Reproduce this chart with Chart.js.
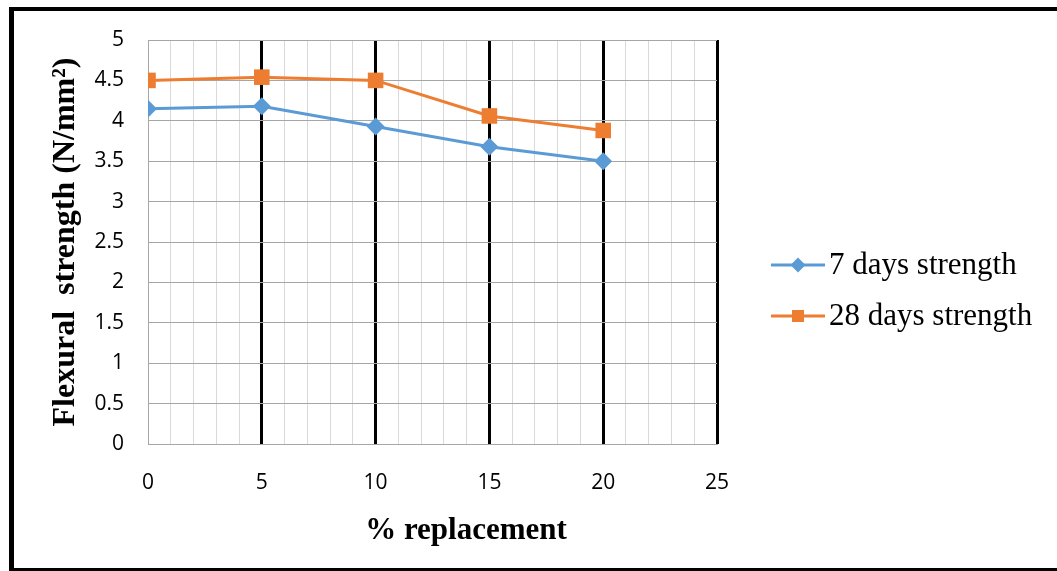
<!DOCTYPE html>
<html>
<head>
<meta charset="utf-8">
<script src="https://cdn.jsdelivr.net/npm/chart.js@4"></script>
<style>
  html, body { margin: 0; padding: 0; background: #fff; overflow: hidden; }
  #wrap { position: absolute; left: 0; top: 0; width: 1057px; height: 571px; }
</style>
</head>
<body>
<div id="wrap"><canvas id="chart"></canvas></div>
<script>
// % replacement vs flexural strength
const replacement = [0, 5, 10, 15, 20];
const strength7 = [4.15, 4.18, 3.93, 3.68, 3.5];
const strength28 = [4.5, 4.54, 4.5, 4.06, 3.88];
const seriesLabels = ['7 days strength', '28 days strength'];
const xTickLabels = [0, 5, 10, 15, 20, 25];
const yTickLabels = ['0', '0.5', '1', '1.5', '2', '2.5', '3', '3.5', '4', '4.5', '5'];

const BLUE = '#5B9BD5';
const ORANGE = '#ED7D31';
const SERIF = '"Liberation Serif", "Times New Roman", serif';
const toPoints = (ys) => replacement.map((x, i) => ({ x: x, y: ys[i] }));

// black outer frame (left, top, bottom edges)
const outerFrame = {
  id: 'outerFrame',
  beforeDraw(chart) {
    const ctx = chart.ctx;
    ctx.save();
    ctx.fillStyle = '#000';
    ctx.fillRect(9, 7, 1048, 4);
    ctx.fillRect(9, 7, 5, 564);
    ctx.fillRect(9, 568, 1048, 4);
    ctx.restore();
  }
};

// x title sits a bit right of the plot centre, and the legend is drawn by hand
const sideLegend = {
  id: 'sideLegend',
  afterDraw(chart) {
    const ctx = chart.ctx;
    ctx.save();
    ctx.fillStyle = '#000';
    ctx.font = 'bold 31px ' + SERIF;
    ctx.textAlign = 'center';
    ctx.textBaseline = 'middle';
    ctx.fillText('% replacement', 466, 531);

    const rows = [265, 316];
    chart.data.datasets.forEach((ds, i) => {
      const y = rows[i];
      ctx.strokeStyle = ds.borderColor;
      ctx.lineWidth = 3;
      ctx.beginPath();
      ctx.moveTo(771, y);
      ctx.lineTo(825, y);
      ctx.stroke();
      ctx.fillStyle = ds.borderColor;
      ctx.beginPath();
      if (ds.pointStyle === 'rectRot') {
        const r = 7.5;
        ctx.moveTo(798 - r, y); ctx.lineTo(798, y - r);
        ctx.lineTo(798 + r, y); ctx.lineTo(798, y + r);
      } else {
        ctx.rect(798 - 6, y - 6, 12, 12);
      }
      ctx.closePath();
      ctx.fill();
      ctx.fillStyle = '#000';
      ctx.font = '31px ' + SERIF;
      ctx.textAlign = 'left';
      ctx.textBaseline = 'middle';
      ctx.fillText(ds.label, 829, y + 1);
    });
    ctx.restore();
  }
};

new Chart(document.getElementById('chart'), {
  type: 'line',
  data: {
    datasets: [
      {
        label: seriesLabels[0],
        data: toPoints(strength7),
        borderColor: BLUE,
        backgroundColor: BLUE,
        borderWidth: 3,
        pointStyle: 'rectRot',
        pointRadius: 9,
        pointBorderWidth: 0,
        tension: 0
      },
      {
        label: seriesLabels[1],
        data: toPoints(strength28),
        borderColor: ORANGE,
        backgroundColor: ORANGE,
        borderWidth: 3,
        pointStyle: 'rect',
        pointRadius: 11,
        pointBorderWidth: 0,
        tension: 0
      }
    ]
  },
  options: {
    responsive: true,
    maintainAspectRatio: false,
    animation: false,
    devicePixelRatio: 1,
    layout: { padding: { left: 47, right: 340, top: 40, bottom: 23 } },
    plugins: {
      legend: { display: false },
      tooltip: { enabled: false }
    },
    scales: {
      x: {
        type: 'linear',
        min: 0,
        max: 25,
        z: 0,
        afterFit: (s) => { s.height = 104; },
        ticks: {
          stepSize: 1,
          autoSkip: false,
          maxRotation: 0,
          padding: 26,
          color: '#000',
          font: { family: '"Open Sans", sans-serif', size: 21 },
          callback: (v) => xTickLabels.includes(v) ? String(v) : ''
        },
        grid: {
          drawTicks: false,
          color: (c) => (c.tick.value % 5 === 0 && c.tick.value > 0) ? '#000' : '#d9d9d9',
          lineWidth: (c) => (c.tick.value % 5 === 0 && c.tick.value > 0) ? 3 : 1
        },
        border: { color: '#a6a6a6', width: 1 }
      },
      y: {
        min: 0,
        max: 5,
        z: -1,
        afterFit: (s) => { s.width = 101; },
        ticks: {
          stepSize: 0.5,
          padding: 24,
          color: '#000',
          font: { family: '"Open Sans", sans-serif', size: 21 },
          callback: (v, i) => yTickLabels[i]
        },
        grid: { drawTicks: false, color: '#a6a6a6', lineWidth: 1 },
        border: { color: '#a6a6a6', width: 1 },
        title: {
          display: true,
          text: 'Flexural  strength (N/mm²)',
          color: '#000',
          padding: 0,
          font: { family: SERIF, size: 32, weight: 'bold' }
        }
      }
    }
  },
  plugins: [outerFrame, sideLegend]
});
</script>
</body>
</html>
